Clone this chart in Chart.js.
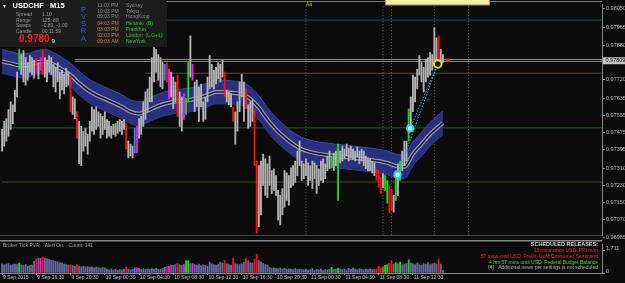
<!DOCTYPE html>
<html>
<head>
<meta charset="utf-8">
<title>USDCHF M15</title>
<script src="https://cdn.jsdelivr.net/npm/chart.js@4.4.1/dist/chart.umd.min.js"></script>
<style>
    html, body { margin: 0; padding: 0; background: #0b0b0b; overflow: hidden; }
    #wrap { position: relative; width: 625px; height: 283px; }
    canvas { position: absolute; left: 0; }
    #priceChart { top: 0; }
    #volumeChart { top: 240px; }
</style>
</head>
<body>
<div id="wrap">
    <canvas id="priceChart" width="625" height="240"></canvas>
    <canvas id="volumeChart" width="625" height="43"></canvas>
</div>
<script>
// USDCHF M15, 9-11 Sep 2015. Prices are in points (1 point = 0.00001)
const high = [
    97490, 97527, 97540, 97582, 97618, 97604, 97673, 97756, 97861, 97838,
    97856, 97824, 97801, 97833, 97824, 97811, 97820, 97801, 97824, 97861,
    97824, 97811, 97833, 97824, 97792, 97778, 97801, 97756, 97765, 97746,
    97774, 97756, 97742, 97641, 97632, 97572, 97527, 97504, 97481, 97495,
    97467, 97527, 97595, 97582, 97595, 97572, 97563, 97550, 97572, 97536,
    97527, 97504, 97513, 97517, 97527, 97536, 97527, 97536, 97517, 97435,
    97421, 97412, 97495, 97504, 97540, 97550, 97618, 97664, 97678, 97733,
    97824, 97870, 97861, 97838, 97824, 97801, 97792, 97801, 97769, 97756,
    97733, 97710, 97742, 97664, 97641, 97655, 97627, 97801, 97925, 97792,
    97710, 97719, 97687, 97701, 97618, 97641, 97733, 97833, 97792, 97765,
    97778, 97801, 97792, 97811, 97756, 97673, 97664, 97655, 97595, 97572,
    97618, 97710, 97746, 97710, 97678, 97604, 97618, 97627, 97586, 97343,
    97321, 97343, 97375, 97353, 97330, 97366, 97298, 97307, 97275, 97206,
    97183, 97215, 97298, 97288, 97275, 97311, 97321, 97343, 97389, 97435,
    97343, 97330, 97353, 97334, 97321, 97343, 97334, 97321, 97307, 97343,
    97353, 97330, 97366, 97389, 97366, 97380, 97389, 97421, 97389, 97412,
    97398, 97421, 97403, 97412, 97398, 97389, 97408, 97389, 97398, 97389,
    97366, 97357, 97353, 97343, 97334, 97307, 97298, 97266, 97284, 97275,
    97252, 97229, 97206, 97183, 97298, 97330, 97343, 97389, 97435, 97435,
    97586, 97641, 97742, 97733, 97769, 97833, 97801, 97778, 97815, 97824,
    97847, 97838, 97962, 97916, 97925, 97861, 97838
];
const low = [
    97389, 97412, 97435, 97458, 97490, 97517, 97572, 97641, 97769, 97746,
    97710, 97696, 97719, 97756, 97746, 97728, 97756, 97724, 97765, 97746,
    97733, 97710, 97756, 97746, 97687, 97664, 97710, 97632, 97673, 97655,
    97687, 97696, 97572, 97559, 97540, 97449, 97330, 97321, 97389, 97412,
    97375, 97435, 97481, 97467, 97490, 97504, 97449, 97467, 97490, 97449,
    97458, 97449, 97467, 97458, 97472, 97481, 97467, 97490, 97398, 97357,
    97366, 97357, 97380, 97380, 97449, 97467, 97504, 97536, 97572, 97618,
    97618, 97710, 97756, 97719, 97687, 97678, 97719, 97710, 97632, 97641,
    97586, 97618, 97550, 97504, 97481, 97536, 97559, 97618, 97733, 97719,
    97572, 97595, 97527, 97595, 97527, 97536, 97618, 97678, 97687, 97678,
    97701, 97724, 97710, 97733, 97641, 97618, 97604, 97595, 97527, 97421,
    97481, 97572, 97641, 97527, 97586, 97495, 97504, 97527, 97321, 97009,
    97037, 97092, 97229, 97183, 97174, 97229, 97192, 97206, 97183, 97069,
    97046, 97092, 97128, 97160, 97137, 97220, 97229, 97243, 97275, 97321,
    97252, 97261, 97275, 97229, 97252, 97215, 97261, 97192, 97229, 97252,
    97243, 97261, 97298, 97307, 97311, 97298, 97321, 97160, 97334, 97343,
    97353, 97366, 97343, 97357, 97353, 97343, 97362, 97330, 97343, 97321,
    97307, 97298, 97298, 97288, 97275, 97252, 97220, 97192, 97220, 97206,
    97147, 97101, 97115, 97105, 97160, 97183, 97252, 97298, 97321, 97343,
    97435, 97504, 97572, 97618, 97678, 97742, 97710, 97664, 97710, 97733,
    97742, 97765, 97801, 97792, 97811, 97788, 97801
];
const tickVolume = [
    700, 620, 680, 720, 600, 650, 690, 640, 760, 600,
    560, 640, 520, 580, 620, 900, 1060, 1150, 1130, 1220,
    1150, 1100, 1050, 980, 950, 900, 850, 800, 760, 680,
    640, 600, 650, 560, 520, 620, 540, 480, 520, 450,
    500, 430, 470, 400, 450, 420, 380, 440, 400, 300,
    250, 320, 220, 280, 200, 260, 240, 300, 460, 300,
    250, 280, 390, 400, 350, 300, 330, 280, 320, 290,
    340, 300, 360, 310, 280, 330, 435, 500, 520, 600,
    560, 640, 725, 620, 580, 650, 950, 950, 700, 720,
    650, 600, 680, 560, 620, 580, 520, 840, 700, 640,
    600, 660, 840, 760, 950, 700, 640, 600, 1100, 720,
    680, 650, 700, 820, 1100, 950, 800, 760, 1060, 1440,
    950, 850, 750, 650, 600, 430, 380, 400, 350, 320,
    380, 300, 350, 280, 320, 300, 270, 330, 290, 310,
    280, 250, 300, 220, 260, 340, 200, 280, 240, 300,
    180, 260, 220, 300, 435, 280, 300, 350, 300, 260,
    320, 240, 350, 280, 390, 300, 260, 330, 280, 250,
    300, 270, 320, 260, 290, 300, 520, 400, 480, 590,
    630, 760, 960, 680, 790, 700, 830, 640, 680, 720,
    1010, 760, 700, 640, 780, 620, 600, 720, 660, 800,
    640, 700, 760, 680, 1080, 680, 200
];

// PVSRA classes (bar indexes)
const climaxBear = [16, 19, 32, 35, 58, 77, 82, 104, 108, 114, 118, 119, 175, 176, 177, 181, 182, 204];
const climaxBull = [8, 86, 87, 154, 157, 179, 180, 184, 186, 190];
const risingBear = [18, 63, 78, 85, 89];
const risingBull = [62, 76];

// envelope band, read every 4 bars
const bandX = [0, 4, 8, 12, 16, 20, 24, 28, 32, 36, 40, 44, 48, 52, 56, 60, 64, 68, 72, 76,
    80, 84, 88, 92, 96, 100, 104, 108, 112, 116, 120, 124, 128, 132, 136, 140, 144, 148, 152, 156,
    160, 164, 168, 172, 176, 180, 184, 188, 192, 196, 200, 206];
const bandUpper = [97861, 97852, 97843, 97843, 97856, 97861, 97847, 97824, 97797, 97760,
    97728, 97705, 97687, 97669, 97650, 97627, 97618, 97632, 97650, 97664,
    97673, 97678, 97682, 97692, 97705, 97719, 97719, 97714, 97710, 97687,
    97646, 97591, 97545, 97508, 97476, 97453, 97440, 97431, 97426, 97421,
    97417, 97412, 97408, 97403, 97398, 97389, 97375, 97371, 97431, 97476, 97522, 97575];
const bandMid = [97806, 97797, 97788, 97788, 97801, 97806, 97792, 97769, 97742, 97705,
    97673, 97650, 97632, 97614, 97595, 97572, 97563, 97577, 97595, 97609,
    97618, 97623, 97627, 97637, 97650, 97664, 97664, 97659, 97655, 97632,
    97591, 97536, 97490, 97453, 97421, 97398, 97385, 97376, 97371, 97366,
    97362, 97357, 97353, 97348, 97343, 97334, 97320, 97316, 97376, 97421, 97467, 97520];
const bandLower = [97751, 97742, 97733, 97733, 97746, 97751, 97737, 97714, 97687, 97650,
    97618, 97595, 97577, 97559, 97540, 97517, 97508, 97522, 97540, 97554,
    97563, 97568, 97572, 97582, 97595, 97609, 97609, 97604, 97600, 97577,
    97536, 97481, 97435, 97398, 97366, 97343, 97330, 97321, 97316, 97311,
    97307, 97302, 97298, 97293, 97288, 97279, 97265, 97261, 97321, 97366, 97412, 97465];

const levelPrices = [97998, 97815, 97806, 97751, 97497, 97245];
const levelFrom = [0, 34, 34, 67, 0, 0];
const newsBars = [142, 178, 182, 202, 218];
const signalX = [184.8, 190.7, 203.6];
const signalY = [97279, 97495, 97794];
const markerX = [208.4];
const markerY = [97811];
const lastPrice = 97809;

const priceTicks = [98050, 97965, 97880, 97720, 97635, 97555, 97475, 97395, 97310, 97230, 97150, 97070, 96985];
const volumeTicks = [0, 1711];
const timeTickIdx = [0, 16, 32, 48, 64, 80, 96, 112, 128, 144, 160, 176, 192];
const timeLabels = ['9 Sep 2015', '9 Sep 16:30', '9 Sep 20:30', '10 Sep 00:30', '10 Sep 04:30',
    '10 Sep 08:30', '10 Sep 12:30', '10 Sep 16:30', '10 Sep 20:30', '11 Sep 00:30',
    '11 Sep 04:30', '11 Sep 08:30', '11 Sep 12:30'];

// styles
const BG = '#0b0b0b';
const FONT = 'Liberation Sans, Arial, sans-serif';
const AXIS = '#8a8a8a';
const levelColors = ['#2c4c60', '#8c8c8c', '#8c8c8c', '#5e4a36', '#1d5c1d', '#4e4a2c'];
const X_MIN = -0.5, X_MAX = 280.34;

function pvsraColor(i, normal) {
    if (climaxBear.includes(i)) return '#ff1010';
    if (climaxBull.includes(i)) return '#10e010';
    if (risingBear.includes(i)) return '#ff10ff';
    if (risingBull.includes(i)) return '#2090ff';
    return normal;
}

function txt(c, s, x, y, color, font, align) {
    c.fillStyle = color;
    c.font = font;
    c.textAlign = align || 'left';
    c.textBaseline = 'middle';
    c.fillText(s, x, y);
}

function hline(c, x1, y, x2, color, w) {
    c.strokeStyle = color;
    c.lineWidth = w || 1;
    c.beginPath();
    c.moveTo(x1, y);
    c.lineTo(x2, y);
    c.stroke();
}

const fixWidth = s => { s.width = 23; };

function bandLine(values, extra) {
    return Object.assign({
        type: 'line',
        data: bandX.map((x, k) => ({ x: x, y: values[k] })),
        pointRadius: 0,
        cubicInterpolationMode: 'monotone',
        fill: false
    }, extra);
}

// price panel datasets
const priceDatasets = [];

levelPrices.forEach((v, k) => {
    priceDatasets.push({
        type: 'line',
        data: [{ x: levelFrom[k], y: v }, { x: 300, y: v }],
        borderColor: levelColors[k], borderWidth: 1, pointRadius: 0, order: 60
    });
});

newsBars.forEach(b => {
    priceDatasets.push({
        type: 'line',
        data: [{ x: b, y: 96900 }, { x: b, y: 98100 }],
        borderColor: '#6e6e6e', borderWidth: 1, borderDash: [1, 2], pointRadius: 0, order: 55
    });
});

const lowerIdx = priceDatasets.length;
priceDatasets.push(bandLine(bandLower, { borderColor: '#3c47a6', borderWidth: 1, order: 40 }));
priceDatasets.push(bandLine(bandUpper, {
    borderColor: '#3c47a6', borderWidth: 1, order: 39,
    fill: { target: lowerIdx }, backgroundColor: 'rgba(44, 51, 132, 0.95)'
}));
priceDatasets.push(bandLine(bandMid, { borderColor: '#9c9cba', borderWidth: 4, order: 38 }));
priceDatasets.push(bandLine(bandMid, { borderColor: '#141436', borderWidth: 1.6, order: 37 }));

priceDatasets.push({
    type: 'bar',
    data: high.map((h, i) => ({ x: i, y: [low[i], h] })),
    backgroundColor: high.map((h, i) => pvsraColor(i, '#b4b4b4')),
    barThickness: 1.2,
    grouped: false,
    order: 10
});

priceDatasets.push({
    type: 'line',
    data: [{ x: signalX[0], y: signalY[0] }, { x: signalX[2], y: signalY[2] }],
    borderColor: '#1cb8e6', borderWidth: 1, borderDash: [1.5, 1.5], pointRadius: 0, order: 5
});
priceDatasets.push({
    type: 'line',
    data: [{ x: signalX[1], y: signalY[1] }, { x: signalX[2], y: signalY[2] }],
    borderColor: '#1cb8e6', borderWidth: 1, borderDash: [1.5, 1.5], pointRadius: 0, order: 5
});
priceDatasets.push({
    type: 'line',
    showLine: false,
    data: signalX.map((x, k) => ({ x: x, y: signalY[k] })),
    pointRadius: [3.2, 3.2, 3.8],
    pointBorderWidth: 2,
    pointBorderColor: ['#2cd4f4', '#2cd4f4', '#f0e400'],
    pointBackgroundColor: ['#e8f8ff', '#e8f8ff', '#101010'],
    order: 2
});
priceDatasets.push({
    type: 'line',
    showLine: false,
    data: markerX.map((x, k) => ({ x: x, y: markerY[k] })),
    pointStyle: 'rectRot', pointRadius: 2.2, pointBorderWidth: 0,
    pointBackgroundColor: '#ff2020',
    order: 1
});

const priceDecor = {
    id: 'priceDecor',
    beforeDraw(chart) {
        const c = chart.ctx;
        c.save();
        c.fillStyle = BG;
        c.fillRect(0, 0, chart.width, chart.height);
        c.restore();
    },
    afterDraw(chart) {
        const c = chart.ctx;
        const ys = chart.scales.y;
        c.save();
        hline(c, 0, 1.5, 602, '#7c7c7c');
        hline(c, 0, 235.5, 602, '#4a4a4a');

        // news tags at the top
        c.fillStyle = '#f0f0a8';
        c.fillRect(385, 0, 105, 5);
        c.strokeStyle = '#b09040';
        c.lineWidth = 1;
        c.strokeRect(385.5, -1, 104, 6);
        txt(c, 'Aa', 306, 5, '#b4b43c', '5px ' + FONT);

        // info panel
        c.fillStyle = '#1c1c1c';
        c.fillRect(0, 0, 167, 47);
        txt(c, '\u25BE', 3, 6, '#e0e0e0', '6px ' + FONT);
        txt(c, 'USDCHF', 12.5, 6.3, '#ffffff', 'bold 7.5px ' + FONT);
        txt(c, 'M15', 50, 6.3, '#ffffff', 'bold 7.5px ' + FONT);
        const keys = ['Spread', 'Range', 'Swaps', 'Candle'];
        const vals = ['1.10', '125, 88', '-0.80, -1.00', '00:11:59'];
        const rows = [14.7, 20.3, 25.8, 31.3];
        keys.forEach((k, n) => {
            txt(c, k, 16, rows[n], '#9a9a9a', '5px ' + FONT);
            txt(c, vals[n], 42, rows[n], '#9a9a9a', '5px ' + FONT);
        });
        txt(c, '0.9780', 19, 39.5, '#ff1e1e', 'bold 10px ' + FONT);
        txt(c, '9', 51.5, 41, '#ffffff', '6px ' + FONT);
        ['P', 'V', 'S', 'R', 'A'].forEach((l, n) => {
            txt(c, l, 83.5, [10, 17, 24, 30.7, 38.5][n], '#3b5ed8', '7.5px ' + FONT, 'center');
        });
        const times = ['11:03 PM', '10:03 PM', '09:03 PM', '04:03 PM', '03:03 PM', '02:03 PM', '09:03 AM'];
        const cities = ['Sydney', 'Tokyo', 'HongKong', 'Helsinki  (B)', 'Frankfurt', 'London  (L,G+1)', 'NewYork'];
        const ty = [5.7, 11.3, 17, 23.3, 29.3, 35.5, 41.5];
        times.forEach((t, n) => {
            txt(c, t, 97.3, ty[n], n < 3 ? '#8c8c8c' : '#c4843c', '5px ' + FONT);
            txt(c, cities[n], 126, ty[n], n < 3 ? '#8c8c8c' : '#2ec82e', '5px ' + FONT);
        });

        // last price tag
        const py = ys.getPixelForValue(lastPrice);
        c.fillStyle = '#c4c4c4';
        c.fillRect(603, py - 3.5, 22, 7);
        txt(c, (lastPrice / 1e5).toFixed(5), 605.5, py, '#101010', '5.5px ' + FONT);
        c.restore();
    }
};

new Chart(document.getElementById('priceChart'), {
    type: 'bar',
    data: { datasets: priceDatasets },
    options: {
        responsive: false,
        animation: false,
        devicePixelRatio: 1,
        layout: { padding: { left: 1, right: 0, top: 1, bottom: 4 }, autoPadding: false },
        plugins: { legend: { display: false }, tooltip: { enabled: false } },
        scales: {
            x: { type: 'linear', min: X_MIN, max: X_MAX, offset: false, display: false },
            y: {
                position: 'right',
                min: 96995.5,
                max: 98071.5,
                bounds: 'data',
                afterFit: fixWidth,
                afterBuildTicks: s => { s.ticks = priceTicks.map(v => ({ value: v })); },
                grid: { drawOnChartArea: false, drawTicks: true, tickLength: 3, color: AXIS },
                border: { display: true, color: AXIS },
                ticks: {
                    color: '#b8b8b8',
                    padding: 1,
                    font: { size: 5.5, family: FONT },
                    callback: v => (v / 1e5).toFixed(5)
                }
            }
        }
    },
    plugins: [priceDecor]
});

// volume panel
const volumeDecor = {
    id: 'volumeDecor',
    beforeDraw(chart) {
        const c = chart.ctx;
        c.save();
        c.fillStyle = BG;
        c.fillRect(0, 0, chart.width, chart.height);
        c.restore();
    },
    afterDraw(chart) {
        const c = chart.ctx;
        c.save();
        hline(c, 0, 0.8, 602, AXIS, 1.5);
        hline(c, 0, 33.5, 602, AXIS, 1);
        txt(c, 'Broker Tick PVA:   Alert On.   Count: 141', 3, 6, '#a0a0a0', '5px ' + FONT);
        txt(c, 'SCHEDULED RELEASES:', 598, 4, '#d4d4d4', 'bold 5.5px ' + FONT, 'right');
        txt(c, '33 mins since USD: PPI m/m', 598, 10.3, '#ff2424', '5px ' + FONT, 'right');
        txt(c, '57 mins until USD: Prelim UoM Consumer Sentiment', 598, 16.3, '#ff2424', '5px ' + FONT, 'right');
        txt(c, '4 hrs 57 mins until USD: Federal Budget Balance', 598, 22.3, '#30e030', '5px ' + FONT, 'right');
        txt(c, '(4)   Additional news per settings is not scheduled', 598, 28, '#b0b0b0', '5px ' + FONT, 'right');
        c.restore();
    }
};

new Chart(document.getElementById('volumeChart'), {
    type: 'bar',
    data: {
        datasets: [{
            data: tickVolume.map((v, i) => ({ x: i, y: v })),
            backgroundColor: tickVolume.map((v, i) => pvsraColor(i, '#67679e')),
            barThickness: 1.2,
            grouped: false
        }]
    },
    options: {
        responsive: false,
        animation: false,
        devicePixelRatio: 1,
        layout: { padding: { left: 1, right: 0, top: 1, bottom: 0 }, autoPadding: false },
        plugins: { legend: { display: false }, tooltip: { enabled: false } },
        scales: {
            x: {
                type: 'linear',
                min: X_MIN,
                max: X_MAX,
                offset: false,
                afterFit: s => { s.height = 10; },
                afterBuildTicks: s => { s.ticks = timeTickIdx.map(v => ({ value: v })); },
                grid: { offset: false, drawOnChartArea: false, drawTicks: true, tickLength: 2, color: AXIS },
                border: { display: false },
                ticks: {
                    color: '#c0c0c0',
                    padding: 0,
                    align: 'start',
                    autoSkip: false,
                    maxRotation: 0,
                    labelOffset: 1,
                    font: { size: 5, family: FONT },
                    callback: (v, i) => timeLabels[i]
                }
            },
            y: {
                position: 'right',
                min: 0,
                max: 2200,
                bounds: 'data',
                afterFit: fixWidth,
                afterBuildTicks: s => { s.ticks = volumeTicks.map(v => ({ value: v })); },
                grid: { drawOnChartArea: false, drawTicks: true, tickLength: 3, color: AXIS },
                border: { display: true, color: AXIS },
                ticks: {
                    color: '#b8b8b8',
                    padding: 1,
                    labelOffset: -2,
                    font: { size: 5.5, family: FONT }
                }
            }
        }
    },
    plugins: [volumeDecor]
});
</script>
</body>
</html>
